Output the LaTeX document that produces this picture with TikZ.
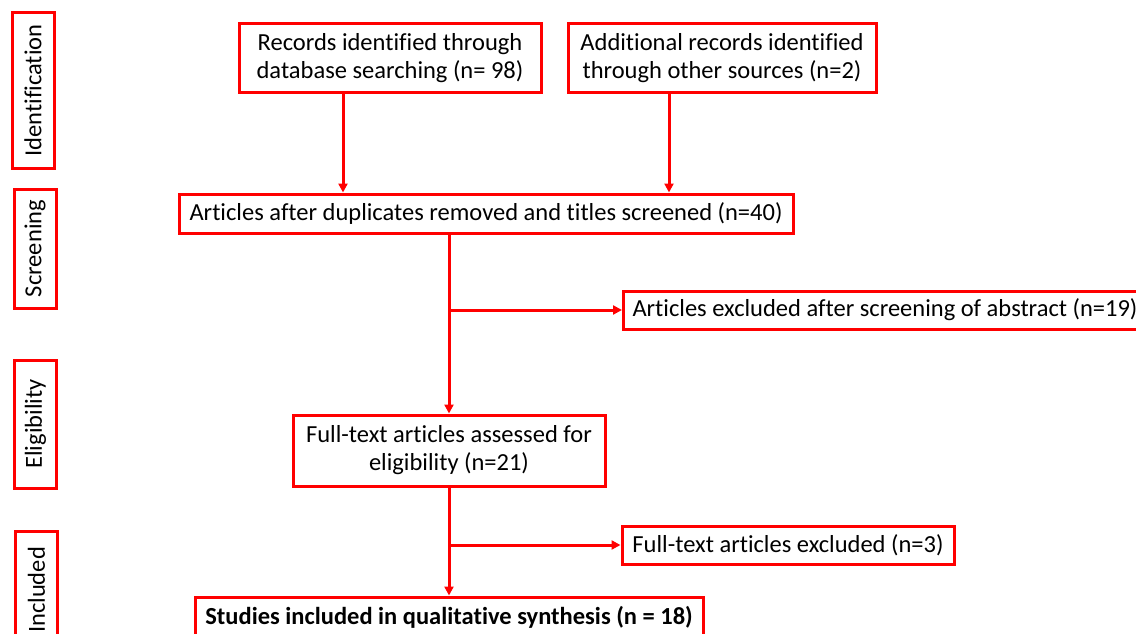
\documentclass[tikz,border=0pt]{standalone}
\usepackage{fontspec}
\setmainfont{Carlito}[Ligatures=NoCommon]
\usetikzlibrary{arrows.meta,positioning}
\tikzset{
	flowbox/.style={draw=red, line width=3pt, align=center, inner sep=2pt},
	stagebox/.style={draw=red, line width=3pt, rotate=90, inner sep=0pt, minimum height=42pt},
	arr/.style={draw=red, line width=3pt, -{Triangle[length=9pt,width=9pt]}},
}
\begin{document}
\begin{tikzpicture}[x=1pt, y=-1pt, font=\fontsize{24.5}{28}\selectfont]
	\useasboundingbox (0,0) rectangle (1136,634);
	%stages
	\foreach \name/\x/\y/\len/\txt in {
		ident/33/90.5/155/Identification,
		screen/35/248.5/119/Screening,
		elig/35.5/424/128/Eligibility,
		incl/36.5/590/118/Included
	}
	\node[stagebox, minimum width=\len pt] (\name) at (\x,\y) {\txt};
	%boxes
	\node[flowbox, minimum width=302pt, minimum height=69pt] (rec) at (390,58.5)
		{Records identified through\\database searching (n= 98)};
	\node[flowbox, minimum width=308pt, minimum height=69pt] (add) at (722,58.5)
		{Additional records identified\\through other sources (n=2)};
	\node[flowbox, minimum width=614pt, minimum height=39pt] (dup) at (486,213.5)
		{Articles after duplicates removed and titles screened (n=40)};
	\node[flowbox, anchor=west, minimum height=38pt, inner xsep=9pt] (exabs) at (622,310)
		{Articles excluded after screening of abstract (n=19)};
	\node[flowbox, minimum width=312pt, minimum height=71pt] (full) at (449,450.5)
		{Full-text articles assessed for\\eligibility (n=21)};
	\node[flowbox, minimum width=332pt, minimum height=38pt] (exfull) at (788,545)
		{Full-text articles excluded (n=3)};
	\node[flowbox, minimum width=508pt, minimum height=40pt] (incl) at (449,617)
		{\bfseries Studies included in qualitative synthesis (n = 18)};
	%arrows
	\draw[arr] ([xshift=-47pt]rec.south) -- ([xshift=-47pt]rec.south |- dup.north);
	\draw[arr] ([xshift=-53pt]add.south) -- ([xshift=-53pt]add.south |- dup.north);
	\draw[arr] (dup.south -| full.north) -- (full.north);
	\draw[arr] (full.north |- exabs.west) -- (exabs.west);
	\draw[arr] (full.south) -- (incl.north);
	\draw[arr] (full.south |- exfull.west) -- (exfull.west);
\end{tikzpicture}
\end{document}
